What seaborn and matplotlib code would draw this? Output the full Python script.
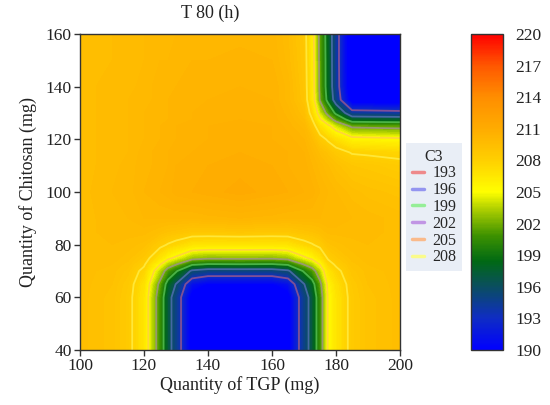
import numpy as np
import pandas as pd
import seaborn as sns
import matplotlib
matplotlib.use("Agg")
import matplotlib.pyplot as plt
from matplotlib.colors import LinearSegmentedColormap, Normalize
from matplotlib.cm import ScalarMappable
from matplotlib.lines import Line2D

# ---- data ----
tgp = [100, 110, 115, 120, 125, 127.5, 130, 135, 140, 150, 160, 165, 170, 172.5, 175, 177.5, 180, 185, 190, 200]
chitosan = [40, 50, 60, 65, 70, 72.5, 75, 80, 85, 90, 100, 110, 115, 120, 125, 127.5, 130, 135, 140, 150, 160]

c3_y40 = [209.5, 209.1, 208.5, 206.6, 200.6, 197.0, 194.7, 189.3, 188.3, 188.3, 188.3, 189.3, 194.7, 197.0, 200.6, 205.2, 206.6, 208.5, 209.1, 209.5]
c3_y50 = [209.5, 209.1, 208.5, 206.6, 200.6, 197.0, 194.7, 189.3, 188.3, 188.3, 188.3, 189.3, 194.7, 197.0, 200.6, 205.2, 206.6, 208.5, 209.1, 209.5]
c3_y60 = [209.5, 209.1, 208.5, 206.6, 200.6, 197.0, 194.7, 189.3, 188.3, 188.3, 188.3, 189.3, 194.7, 197.0, 200.6, 205.2, 206.6, 208.5, 209.1, 209.5]
c3_y65 = [209.5, 209.2, 208.6, 206.9, 201.4, 198.0, 195.9, 191.0, 190.0, 190.0, 190.0, 191.0, 195.9, 198.0, 201.4, 205.5, 206.9, 208.6, 209.2, 209.5]
c3_y70 = [209.5, 209.3, 208.9, 207.6, 203.5, 200.9, 199.3, 195.6, 194.9, 194.9, 194.9, 195.6, 199.3, 200.9, 203.5, 206.6, 207.6, 208.9, 209.3, 209.5]
c3_y72 = [209.5, 209.4, 209.1, 208.2, 205.1, 203.3, 202.1, 199.3, 198.8, 198.9, 198.8, 199.3, 202.1, 203.3, 205.1, 207.4, 208.2, 209.1, 209.4, 209.5]
c3_y75 = [209.5, 209.5, 209.3, 208.7, 206.7, 205.5, 204.7, 202.9, 202.5, 202.6, 202.5, 202.9, 204.7, 205.5, 206.7, 208.2, 208.7, 209.3, 209.5, 209.5]
c3_y80 = [209.5, 209.6, 209.5, 209.3, 208.4, 207.9, 207.5, 206.7, 206.6, 206.6, 206.6, 206.7, 207.5, 207.9, 208.4, 209.1, 209.3, 209.5, 209.6, 209.5]
c3_y85 = [209.5, 209.7, 209.7, 209.7, 209.4, 209.2, 209.1, 208.8, 208.8, 208.9, 208.8, 208.8, 209.1, 209.2, 209.4, 209.7, 209.7, 209.7, 209.7, 209.5]
c3_y90 = [209.5, 209.7, 209.8, 210.0, 210.0, 210.0, 210.0, 210.0, 210.1, 210.2, 210.1, 210.0, 210.0, 210.0, 210.0, 210.0, 210.0, 209.8, 209.7, 209.5]
c3_y100 = [209.5, 209.8, 209.9, 210.2, 210.4, 210.5, 210.7, 210.8, 210.9, 211.1, 210.9, 210.8, 210.6, 210.5, 210.2, 210.0, 209.8, 209.5, 209.3, 209.1]
c3_y110 = [209.5, 209.7, 209.9, 210.1, 210.3, 210.4, 210.6, 210.7, 210.8, 210.9, 210.8, 210.6, 210.5, 210.2, 209.9, 209.6, 209.3, 208.8, 208.7, 208.4]
c3_y115 = [209.5, 209.7, 209.8, 210.1, 210.3, 210.4, 210.5, 210.6, 210.7, 210.8, 210.7, 210.6, 210.4, 210.0, 209.5, 209.1, 208.6, 207.9, 207.8, 207.6]
c3_y120 = [209.5, 209.7, 209.8, 210.0, 210.2, 210.3, 210.4, 210.5, 210.6, 210.8, 210.6, 210.5, 210.2, 209.6, 208.6, 207.8, 207.0, 205.7, 205.6, 205.4]
c3_y125 = [209.5, 209.7, 209.8, 210.0, 210.2, 210.3, 210.4, 210.5, 210.6, 210.7, 210.6, 210.3, 209.9, 208.8, 206.9, 205.5, 204.0, 201.6, 201.5, 201.3]
c3_y127 = [209.5, 209.7, 209.8, 210.0, 210.2, 210.2, 210.3, 210.4, 210.5, 210.6, 210.5, 210.2, 209.6, 208.1, 205.3, 203.3, 201.2, 197.7, 197.6, 197.5]
c3_y130 = [209.5, 209.7, 209.8, 210.0, 210.1, 210.2, 210.3, 210.4, 210.5, 210.6, 210.5, 210.1, 209.4, 207.4, 203.9, 201.3, 198.5, 194.1, 194.0, 193.8]
c3_y135 = [209.5, 209.7, 209.8, 209.9, 210.1, 210.2, 210.3, 210.3, 210.4, 210.5, 210.4, 209.9, 209.0, 206.4, 201.8, 198.3, 194.7, 188.9, 188.8, 188.6]
c3_y140 = [209.5, 209.7, 209.7, 209.9, 210.1, 210.1, 210.2, 210.3, 210.4, 210.4, 210.4, 209.9, 208.9, 206.3, 201.5, 197.9, 194.2, 188.2, 188.2, 188.0]
c3_y150 = [209.5, 209.6, 209.7, 209.8, 210.0, 210.0, 210.1, 210.2, 210.2, 210.3, 210.2, 209.7, 208.8, 206.2, 201.4, 197.9, 194.1, 188.2, 188.1, 188.0]
c3_y160 = [209.5, 209.6, 209.7, 209.8, 209.9, 209.9, 210.0, 210.0, 210.1, 210.1, 210.1, 209.6, 208.7, 206.1, 201.3, 197.8, 194.1, 188.2, 188.1, 188.0]

c3_rows = [c3_y40, c3_y50, c3_y60, c3_y65, c3_y70, c3_y72, c3_y75, c3_y80, c3_y85, c3_y90,
           c3_y100, c3_y110, c3_y115, c3_y120, c3_y125, c3_y127, c3_y130, c3_y135,
           c3_y140, c3_y150, c3_y160]

line_levels = [193, 196, 199, 202, 205, 208]
line_labels = ["193", "196", "199", "202", "205", "208"]
line_colors = ["#f07070", "#7f7fef", "#80ee80", "#b77fe0", "#ffad70", "#ffff70"]
cbar_ticks = [190, 193, 196, 199, 202, 205, 208, 211, 214, 217, 220]

# ---- style ----
sns.set_style("ticks")
plt.rcParams['font.family'] = ['Liberation Serif', 'DejaVu Serif']

df = pd.DataFrame(c3_rows, index=chitosan, columns=tgp)
Z = df.values

cmap = LinearSegmentedColormap.from_list("c3", [
    (0.00, (0/255, 0/255, 255/255)),
    (0.10, (15/255, 45/255, 195/255)),
    (0.20, (10/255, 78/255, 95/255)),
    (0.28, (0/255, 105/255, 20/255)),
    (0.36, (60/255, 145/255, 0/255)),
    (0.45, (180/255, 210/255, 0/255)),
    (0.50, (255/255, 255/255, 0/255)),
    (0.60, (255/255, 208/255, 0/255)),
    (0.70, (255/255, 172/255, 0/255)),
    (0.80, (255/255, 142/255, 0/255)),
    (0.90, (255/255, 88/255, 0/255)),
    (1.00, (255/255, 0/255, 0/255)),
])
cmap.set_under((0, 0, 1))
cmap.set_over((1, 0, 0))
norm = Normalize(vmin=190, vmax=220)

W, H = 550, 405
fig = plt.figure(figsize=(W / 100, H / 100), dpi=100)
ax = fig.add_axes([80 / W, 55 / H, 320 / W, 316 / H])
cax = fig.add_axes([471 / W, 55 / H, 32 / W, 316 / H])

fill_levels = np.linspace(190, 220, 151)
ax.contourf(df.columns.values, df.index.values, Z, levels=fill_levels, cmap=cmap, norm=norm, extend='both')
ax.contour(df.columns.values, df.index.values, Z, levels=line_levels, colors=line_colors,
           linewidths=1.3, alpha=0.5)

ax.set_xlim(100, 200)
ax.set_ylim(40, 160)
ax.set_xticks([100, 120, 140, 160, 180, 200])
ax.set_yticks([40, 60, 80, 100, 120, 140, 160])
ax.tick_params(direction='out', length=4, width=1, color='#333333', labelsize=12.5,
               labelcolor='#222222', pad=2)
for s in ax.spines.values():
    s.set_visible(True)
    s.set_color('#333333')
    s.set_linewidth(1.0)
ax.set_xlabel("Quantity of TGP (mg)", fontsize=13, color='#222222', labelpad=1)
ax.set_ylabel("Quantity of Chitosan (mg)", fontsize=13, color='#222222', labelpad=6)

fig.text(210 / W, 1 - 13 / H, "T 80 (h)", ha='center', va='center', fontsize=13, color='#222222')

sm = ScalarMappable(norm=norm, cmap=cmap)
cb = fig.colorbar(sm, cax=cax, ticks=cbar_ticks)
cb.ax.tick_params(length=0, labelsize=12.5, labelcolor='#222222', pad=9)
cb.outline.set_edgecolor('#333333')
cb.outline.set_linewidth(1.0)

handles = [Line2D([0], [0], color=c, lw=2.5, alpha=0.8) for c in line_colors]
leg = fig.legend(handles, line_labels, title="C3", loc='upper left',
                 bbox_to_anchor=(406 / W, 1 - 143 / H), frameon=True,
                 facecolor='#e9eef6', edgecolor='none', framealpha=1,
                 fontsize=11.5, title_fontsize=11.5, handlelength=0.8,
                 labelspacing=0.05, borderpad=0.35, handletextpad=0.5,
                 borderaxespad=0)
leg.get_frame().set_boxstyle('square', pad=0)

fig.savefig("out.png", dpi=100)
